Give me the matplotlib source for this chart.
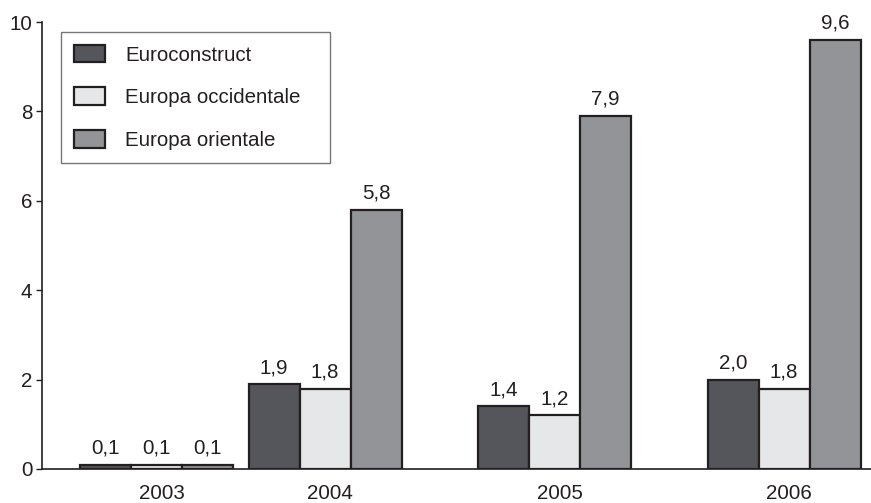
import matplotlib
matplotlib.use("Agg")
import matplotlib.pyplot as plt
import numpy as np

plt.rcParams['font.family'] = ['Liberation Sans', 'DejaVu Sans']

years = ["2003", "2004", "2005", "2006"]
series = ["Euroconstruct", "Europa occidentale", "Europa orientale"]
euroconstruct = [0.1, 1.9, 1.4, 2.0]
europa_occidentale = [0.1, 1.8, 1.2, 1.8]
europa_orientale = [0.1, 5.8, 7.9, 9.6]

colors = ["#55565b", "#e6e7e8", "#939498"]
edge = "#231f20"

# layout: gaps before each group, in bar-width units
bar_w = 1.0
gaps_before = [0.75, 0.3, 1.5, 1.5]
starts = []
pos = 0.0
for g in gaps_before:
    pos += g
    starts.append(pos)
    pos += 3 * bar_w
starts = np.array(starts)

fig = plt.figure(figsize=(8.71, 5.03), dpi=100)
ax = fig.add_axes([42 / 871, 34 / 503, 829 / 871, 447 / 503])

values = [euroconstruct, europa_occidentale, europa_orientale]
fs = 14.8
for i, (name, vals, c) in enumerate(zip(series, values, colors)):
    xs = starts + i * bar_w + bar_w / 2
    ax.bar(xs, vals, width=bar_w, color=c, edgecolor=edge, linewidth=1.6,
           label=name, zorder=3)
    for x, v in zip(xs, vals):
        ax.annotate(f"{v:.1f}".replace(".", ","), (x, v), xytext=(0, 5),
                    textcoords="offset points", ha="center", va="bottom",
                    fontsize=fs, color="#231f20")

ax.set_xlim(0, 829 / 51)
ax.set_ylim(0, 10)
ax.set_yticks([0, 2, 4, 6, 8, 10])
ax.set_yticklabels(["0", "2", "4", "6", "8", "10"], fontsize=fs, color="#231f20")
ax.set_xticks(starts + 1.5 * bar_w + 0.1)
ax.set_xticklabels(years, fontsize=fs, color="#231f20")
ax.tick_params(axis="x", length=0, pad=11)
ax.tick_params(axis="y", length=4, width=1, color="#231f20", pad=3)
for s in ["top", "right"]:
    ax.spines[s].set_visible(False)
for s in ["left", "bottom"]:
    ax.spines[s].set_color("#231f20")
    ax.spines[s].set_linewidth(1.2)

leg = ax.legend(loc="upper left",
                bbox_to_anchor=(61 / 871, 1 - 163 / 503, 269 / 871, 131 / 503),
                bbox_transform=fig.transFigure, mode="expand", fontsize=fs,
                frameon=True, fancybox=False, handlelength=1.5,
                handleheight=0.95, handletextpad=1.0, labelspacing=1.1,
                borderpad=0.62, borderaxespad=0)
leg.get_frame().set_edgecolor("#555555")
leg.get_frame().set_linewidth(1.0)
for t in leg.get_texts():
    t.set_color("#231f20")

fig.savefig("out.png", dpi=100)
